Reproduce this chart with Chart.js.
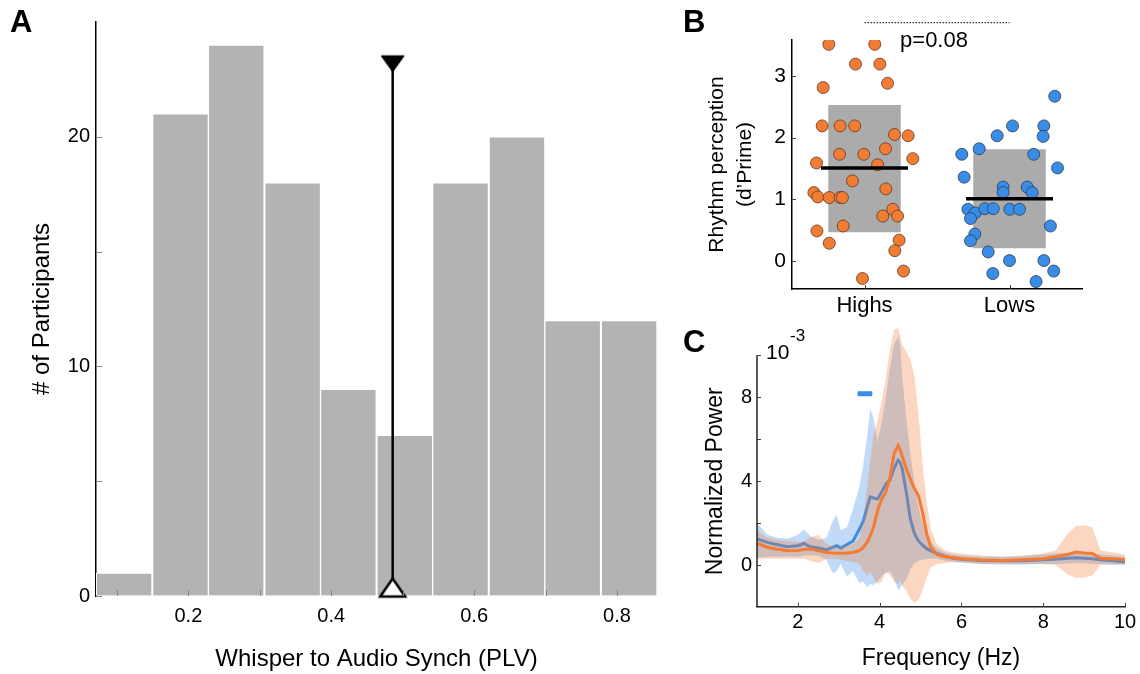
<!DOCTYPE html>
<html>
<head>
<meta charset="utf-8">
<script src="https://cdn.jsdelivr.net/npm/chart.js@4/dist/chart.umd.min.js"></script>
<style>
  body { margin: 0; background: #fff; }
  #page { position: relative; width: 1140px; height: 674px; overflow: hidden; font-family: 'Liberation Sans', Arial, sans-serif; }
  canvas { position: absolute; }
  .letter { position: absolute; font-weight: bold; font-size: 31px; color: #000; }
</style>
</head>
<body>
<div id="page">
  <canvas id="histChart" width="680" height="674" style="left:0;top:0"></canvas>
  <canvas id="rhythmChart" width="460" height="320" style="left:680px;top:0"></canvas>
  <canvas id="powerChart" width="460" height="354" style="left:680px;top:320px"></canvas>
  <div class="letter" style="left:10px;top:4px">A</div>
  <div class="letter" style="left:683px;top:4px">B</div>
  <div class="letter" style="left:683px;top:324px">C</div>
</div>
<script>
// ---- panel A: histogram of whisper-to-audio PLV
const binCenters = [0.110, 0.189, 0.267, 0.346, 0.424, 0.503, 0.581, 0.660, 0.738, 0.817];
const participantCounts = [1, 21, 24, 18, 9, 7, 18, 20, 12, 12];
const medianPLV = 0.486;
const medianMarkerY = [0.37, 23.18];
const plvTicks = [0.1, 0.2, 0.3, 0.4, 0.5, 0.6, 0.7, 0.8];
const plvLabels = ['', '0.2', '', '0.4', '', '0.6', '', '0.8'];
const countTicks = [0, 5, 10, 15, 20];
const countLabels = ['0', '', '10', '', '20'];

// ---- panel B: rhythm perception per group
const groupTicks = [1, 2];
const groupLabels = ['Highs', 'Lows'];
const dprimeTicks = [0, 1, 2, 3];
const highsX = [0.754, 1.071, 0.938, 1.106, 0.715, 1.159, 0.708, 0.832, 0.933, 1.207, 1.301, 1.145, 0.828, 0.995, 1.333, 0.669, 1.090, 0.917, 0.651, 0.678, 0.756, 0.832, 0.848, 1.147, 1.195, 1.126, 1.228, 0.853, 0.672, 0.757, 1.239, 1.209, 1.269, 0.986];
const highsY = [3.51, 3.51, 3.19, 3.19, 2.81, 2.88, 2.19, 2.19, 2.19, 2.05, 2.03, 1.82, 1.73, 1.73, 1.66, 1.59, 1.56, 1.30, 1.11, 1.04, 1.03, 1.03, 1.03, 1.17, 0.84, 0.73, 0.73, 0.57, 0.49, 0.29, 0.34, 0.17, -0.16, -0.28];
const lowsX = [2.312, 2.021, 2.237, 1.915, 2.232, 1.791, 1.671, 2.167, 2.331, 1.687, 1.956, 2.122, 1.956, 2.156, 1.713, 1.763, 1.830, 1.888, 2.002, 2.069, 1.731, 2.282, 1.761, 1.731, 1.853, 2.000, 2.237, 1.885, 2.305, 2.183];
const lowsY = [2.67, 2.19, 2.19, 2.03, 2.02, 1.82, 1.73, 1.73, 1.51, 1.36, 1.20, 1.20, 1.11, 1.11, 0.84, 0.78, 0.85, 0.85, 0.84, 0.84, 0.69, 0.57, 0.44, 0.33, 0.15, 0.01, 0.01, -0.20, -0.16, -0.33];
const groupMeans = [1.51, 1.01];
const groupBoxLow = [0.47, 0.21];
const groupBoxHigh = [2.53, 1.81];
const pValueY = 3.86;

// ---- panel C: normalized power spectrum (x 10^-3)
const freqs = [1.0, 1.25, 1.5, 1.75, 2.0, 2.15, 2.3, 2.5, 2.7, 2.85, 2.95, 3.05, 3.2, 3.35, 3.5, 3.6, 3.7, 3.77, 3.85, 3.95, 4.05, 4.15, 4.25, 4.35, 4.45, 4.5, 4.55, 4.65, 4.75, 4.85, 4.95, 5.05, 5.15, 5.25, 5.4, 5.6, 5.8, 6.0, 6.5, 7.0, 7.5, 8.0, 8.3, 8.6, 8.8, 9.0, 9.2, 9.4, 9.7, 10.0];
const lowsPower = [1.25, 1.08, 0.97, 0.87, 0.92, 1.03, 0.87, 0.81, 0.73, 0.84, 0.92, 0.81, 0.98, 1.15, 1.7, 2.1, 2.8, 3.25, 3.2, 3.15, 3.5, 3.85, 4.05, 4.6, 5.0, 4.9, 4.6, 3.5, 2.2, 1.5, 1.15, 0.95, 0.78, 0.68, 0.55, 0.42, 0.32, 0.28, 0.22, 0.2, 0.2, 0.25, 0.28, 0.33, 0.35, 0.33, 0.3, 0.25, 0.2, 0.15];
const lowsLower = [0.35, 0.4, 0.4, 0.4, 0.4, 0.45, 0.45, 0.45, 0.25, -0.4, -0.3, 0.05, -0.55, -0.3, -0.85, -0.8, -1.05, -0.9, -0.95, -0.8, -0.5, -0.4, -0.3, -0.6, -1.2, -1.1, -0.9, -0.7, -0.2, 0.1, 0.2, 0.25, 0.3, 0.3, 0.3, 0.2, 0.15, 0.12, 0.05, 0.03, 0.03, 0.05, 0.05, 0.08, 0.1, 0.1, 0.05, 0.05, 0.0, 0.0];
const lowsUpper = [2.0, 1.45, 1.3, 1.25, 1.45, 1.7, 1.4, 1.2, 1.3, 2.1, 2.4, 1.65, 1.8, 2.7, 3.7, 4.8, 6.2, 7.45, 7.0, 5.9, 6.8, 8.0, 9.4, 10.5, 10.9, 10.5, 9.0, 7.0, 5.3, 3.9, 2.7, 2.0, 1.5, 1.1, 0.8, 0.6, 0.5, 0.45, 0.4, 0.4, 0.42, 0.5, 0.55, 0.6, 0.6, 0.6, 0.55, 0.5, 0.45, 0.4];
const highsPower = [1.05, 0.85, 0.75, 0.68, 0.7, 0.74, 0.76, 0.68, 0.6, 0.57, 0.56, 0.56, 0.57, 0.6, 0.68, 0.84, 1.1, 1.4, 1.8, 2.6, 3.15, 3.46, 4.18, 5.3, 5.7, 5.5, 5.2, 4.6, 4.1, 3.65, 3.3, 2.5, 1.5, 0.85, 0.5, 0.4, 0.35, 0.3, 0.24, 0.22, 0.25, 0.3, 0.4, 0.5, 0.62, 0.58, 0.55, 0.32, 0.3, 0.25];
const highsLower = [0.3, 0.3, 0.3, 0.3, 0.3, 0.3, 0.2, 0.1, 0.3, 0.3, 0.3, 0.25, 0.2, 0.15, 0.05, -0.3, -0.5, -0.3, -0.6, -0.9, -0.8, -0.3, -0.5, -0.8, -0.9, -0.7, -1.0, -1.2, -1.6, -1.8, -1.65, -1.2, -0.6, -0.1, 0.05, 0.1, 0.15, 0.12, 0.05, 0.05, 0.05, 0.05, 0.0, -0.45, -0.6, -0.6, -0.5, 0.0, 0.05, 0.05];
const highsUpper = [1.65, 1.3, 1.2, 1.15, 1.1, 1.15, 1.3, 1.45, 1.0, 0.9, 0.9, 0.9, 0.95, 1.0, 1.3, 2.2, 3.8, 5.0, 6.2, 6.9, 7.8, 8.9, 10.3, 11.2, 11.3, 11.0, 10.5, 10.2, 9.8, 9.0, 7.2, 4.8, 3.0, 1.7, 1.0, 0.7, 0.6, 0.55, 0.45, 0.4, 0.45, 0.55, 0.7, 1.5, 1.85, 1.9, 1.8, 0.7, 0.6, 0.5];
const sigFreqs = [3.46, 3.82];
const sigLevel = 8.17;
const freqTicks = [2, 4, 6, 8, 10];
const powerTicks = [0, 2, 4, 6, 8, 10];
const powerLabels = ['0', '', '4', '', '8', ''];

const ORANGE = '#f27c33';
const BLUE = '#3a8de6';
const FONT = "'Liberation Sans', Arial, sans-serif";

Chart.defaults.font.family = FONT;
Chart.defaults.color = '#000';
Chart.defaults.animation = false;
Chart.defaults.responsive = false;
Chart.defaults.plugins.legend.display = false;
Chart.defaults.plugins.tooltip.enabled = false;

function setTicks(values) {
    return function(scale){
        scale.ticks = values.map(v => ({value: v}));
    };
}

function pts(xs, ys) {
    return xs.map((x, i) => ({x: x, y: ys[i]}));
}

// small tick marks pointing into the plot, like the original figure
function inwardTicks(len, color) {
    return {
        id: 'inwardTicks',
        afterDatasetsDraw(chart){
            const ctx = chart.ctx;
            ctx.save();
            ctx.strokeStyle = color;
            ctx.lineWidth = 1;
            const xs = chart.scales.x, ys = chart.scales.y;
            xs.ticks.forEach((t, i) => {
                const p = Math.round(xs.getPixelForTick(i)) + 0.5;
                ctx.beginPath(); ctx.moveTo(p, xs.top); ctx.lineTo(p, xs.top - len); ctx.stroke();
            });
            ys.ticks.forEach((t, i) => {
                const p = Math.round(ys.getPixelForTick(i)) + 0.5;
                ctx.beginPath(); ctx.moveTo(ys.right, p); ctx.lineTo(ys.right + len, p); ctx.stroke();
            });
            ctx.restore();
        }
    };
}

function triangleMarker(pointDown, fill, w, h, lw) {
    const c = document.createElement('canvas');
    c.width = w + 6; c.height = h + 6;
    const g = c.getContext('2d');
    const cx = c.width / 2;
    g.beginPath();
    if (pointDown){
        g.moveTo(cx - w / 2, 3); g.lineTo(cx + w / 2, 3); g.lineTo(cx, 3 + h);
    } else {
        g.moveTo(cx, 3); g.lineTo(cx + w / 2, 3 + h); g.lineTo(cx - w / 2, 3 + h);
    }
    g.closePath();
    g.fillStyle = fill; g.fill();
    g.lineJoin = 'miter';
    g.lineWidth = lw; g.strokeStyle = '#000'; g.stroke();
    return c;
}

// ---------- A
new Chart(document.getElementById('histChart'), {
    type: 'bar',
    data: {
        datasets: [{
            type: 'line',
            data: [{x: medianPLV, y: medianMarkerY[0]}, {x: medianPLV, y: medianMarkerY[1]}],
            borderColor: '#000',
            borderWidth: 2.5,
            pointStyle: [triangleMarker(false, '#fff', 25, 18, 2.5), triangleMarker(true, '#000', 23, 16, 1)],
            pointRadius: 12,
            clip: false,
            order: 0
        }, {
            data: pts(binCenters, participantCounts),
            backgroundColor: '#b3b3b3',
            borderColor: '#fff',
            borderWidth: 1,
            barPercentage: 1,
            categoryPercentage: 1,
            order: 1
        }]
    },
    options: {
        layout: { padding: {top: 22, right: 23, left: 0, bottom: 0} },
        scales: {
            x: {
                type: 'linear', min: 0.0707, max: 0.856, offset: false,
                afterBuildTicks: setTicks(plvTicks),
                afterFit: s => { s.height = 78; },
                grid: { drawOnChartArea: false, drawTicks: false, offset: false },
                border: { display: false },
                ticks: { padding: 8, font: {size: 20}, maxRotation: 0, autoSkip: false, callback: (v, i) => plvLabels[i] },
                title: { display: true, text: 'Whisper to Audio Synch (PLV)', font: {size: 24}, padding: {top: 0, bottom: 0} }
            },
            y: {
                min: 0, max: 25,
                afterBuildTicks: setTicks(countTicks),
                afterFit: s => { s.width = 96; },
                grid: { drawOnChartArea: false, drawTicks: false },
                border: { display: true, color: '#000', width: 1.5 },
                ticks: { padding: 6, font: {size: 20}, callback: (v, i) => countLabels[i] },
                title: { display: true, text: '# of Participants', font: {size: 24}, padding: {top: 28, bottom: 0} }
            }
        }
    },
    plugins: [inwardTicks(6, '#888')]
});

// ---------- B
const pValuePlugin = {
    id: 'pValue',
    afterDraw(chart){
        const ctx = chart.ctx;
        const xs = chart.scales.x;
        ctx.save();
        ctx.font = '22px ' + FONT;
        ctx.fillStyle = '#000';
        ctx.textAlign = 'center';
        ctx.textBaseline = 'middle';
        ctx.fillText('p=0.08', xs.getPixelForValue(1.5) - 3, chart.chartArea.top + 1);
        ctx.restore();
    }
};

new Chart(document.getElementById('rhythmChart'), {
    type: 'bar',
    data: {
        datasets: [{
            type: 'line',
            data: [{x: 0.7, y: groupMeans[0]}, {x: 1.3, y: groupMeans[0]}],
            borderColor: '#000', borderWidth: 3.5, pointRadius: 0, order: 0
        }, {
            type: 'line',
            data: [{x: 1.7, y: groupMeans[1]}, {x: 2.3, y: groupMeans[1]}],
            borderColor: '#000', borderWidth: 3.5, pointRadius: 0, order: 0
        }, {
            type: 'line',
            data: [{x: 1, y: pValueY}, {x: 2, y: pValueY}],
            borderColor: '#000', borderWidth: 1, borderDash: [1.5, 1.5], pointRadius: 0, clip: false, order: 0
        }, {
            type: 'scatter',
            data: pts(highsX, highsY),
            backgroundColor: ORANGE, borderColor: '#5b3b26', borderWidth: 0.8, pointRadius: 6, order: 1
        }, {
            type: 'scatter',
            data: pts(lowsX, lowsY),
            backgroundColor: BLUE, borderColor: '#2a3c55', borderWidth: 0.8, pointRadius: 6, order: 1
        }, {
            data: groupTicks.map((x, i) => ({x: x, y: [groupBoxLow[i], groupBoxHigh[i]]})),
            backgroundColor: '#ababab',
            borderWidth: 0,
            barPercentage: 0.5,
            categoryPercentage: 1,
            order: 2
        }]
    },
    options: {
        layout: { padding: {top: 40, right: 58, left: 0, bottom: 0} },
        scales: {
            x: {
                type: 'linear', min: 0.5, max: 2.5, offset: false,
                afterBuildTicks: setTicks(groupTicks),
                afterFit: s => { s.height = 31; },
                grid: { drawOnChartArea: false, drawTicks: false, offset: false },
                border: { display: true, color: '#000', width: 1.5 },
                ticks: { padding: 4, font: {size: 22}, maxRotation: 0, callback: (v, i) => groupLabels[i] }
            },
            y: {
                min: -0.45, max: 3.58,
                afterBuildTicks: setTicks(dprimeTicks),
                afterFit: s => { s.width = 112; },
                grid: { drawOnChartArea: false, drawTicks: false },
                border: { display: true, color: '#000', width: 1.5 },
                ticks: { padding: 6, font: {size: 21} },
                title: { display: true, text: ['Rhythm perception', "(d\u2019Prime)"], font: {size: 21, lineHeight: 1.33}, padding: {top: 23, bottom: 0} }
            }
        }
    },
    plugins: [inwardTicks(4, '#444'), pValuePlugin]
});

// ---------- C
// y axis only runs up to 10 (the bands overshoot it), so the axis line,
// its title and the 10^-3 label are drawn here
const powerAxisPlugin = {
    id: 'powerAxis',
    afterDraw(chart){
        const ctx = chart.ctx;
        const a = chart.chartArea;
        const y10 = chart.scales.y.getPixelForValue(10);
        ctx.save();
        ctx.strokeStyle = '#222';
        ctx.lineWidth = 1.5;
        ctx.beginPath();
        ctx.moveTo(a.left, y10);
        ctx.lineTo(a.left, a.bottom);
        ctx.stroke();
        ctx.fillStyle = '#000';
        ctx.textAlign = 'left';
        ctx.textBaseline = 'middle';
        ctx.font = '21px ' + FONT;
        ctx.fillText('10', a.left + 9, y10 - 2);
        ctx.font = '17px ' + FONT;
        ctx.fillText('-3', a.left + 33, y10 - 19);
        ctx.translate(a.left - 41, (y10 + a.bottom) / 2);
        ctx.rotate(-Math.PI / 2);
        ctx.textAlign = 'center';
        ctx.font = '23px ' + FONT;
        ctx.fillText('Normalized Power', 0, 0);
        ctx.restore();
    }
};

const band = (data, color, fillTarget, order) => ({
    type: 'line', data: pts(freqs, data), borderWidth: 0, pointRadius: 0,
    backgroundColor: color, fill: fillTarget, order: order
});

new Chart(document.getElementById('powerChart'), {
    type: 'line',
    data: {
        datasets: [
            { data: pts(sigFreqs, [sigLevel, sigLevel]), borderColor: BLUE, borderWidth: 5, pointRadius: 0, borderCapStyle: 'butt', order: 0 },
            { data: pts(freqs, highsPower), borderColor: ORANGE, borderWidth: 3, pointRadius: 0, order: 1 },
            band(highsUpper, 'rgba(242,124,51,0.3)', '+1', 2),
            band(highsLower, 'transparent', false, 3),
            { data: pts(freqs, lowsPower), borderColor: BLUE, borderWidth: 3, pointRadius: 0, order: 4 },
            band(lowsUpper, 'rgba(58,141,230,0.32)', '+1', 5),
            band(lowsLower, 'transparent', false, 6)
        ]
    },
    options: {
        layout: { padding: {top: 6, right: 15, left: 0, bottom: 0} },
        scales: {
            x: {
                type: 'linear', min: 1, max: 10,
                afterBuildTicks: setTicks(freqTicks),
                afterFit: s => { s.height = 67; },
                grid: { drawOnChartArea: false, drawTicks: false },
                border: { display: true, color: '#222', width: 1.5 },
                ticks: { padding: 3, font: {size: 20}, maxRotation: 0 },
                title: { display: true, text: 'Frequency (Hz)', font: {size: 23}, padding: {top: 0, bottom: 2} }
            },
            y: {
                min: -2, max: 11.4,
                afterBuildTicks: setTicks(powerTicks),
                afterFit: s => { s.width = 77; s.paddingTop = 0; s.paddingBottom = 0; },
                grid: { drawOnChartArea: false, drawTicks: false },
                border: { display: false },
                ticks: { padding: 5, font: {size: 20}, callback: (v, i) => powerLabels[i] }
            }
        }
    },
    plugins: [inwardTicks(4, '#444'), powerAxisPlugin]
});
</script>
</body>
</html>
